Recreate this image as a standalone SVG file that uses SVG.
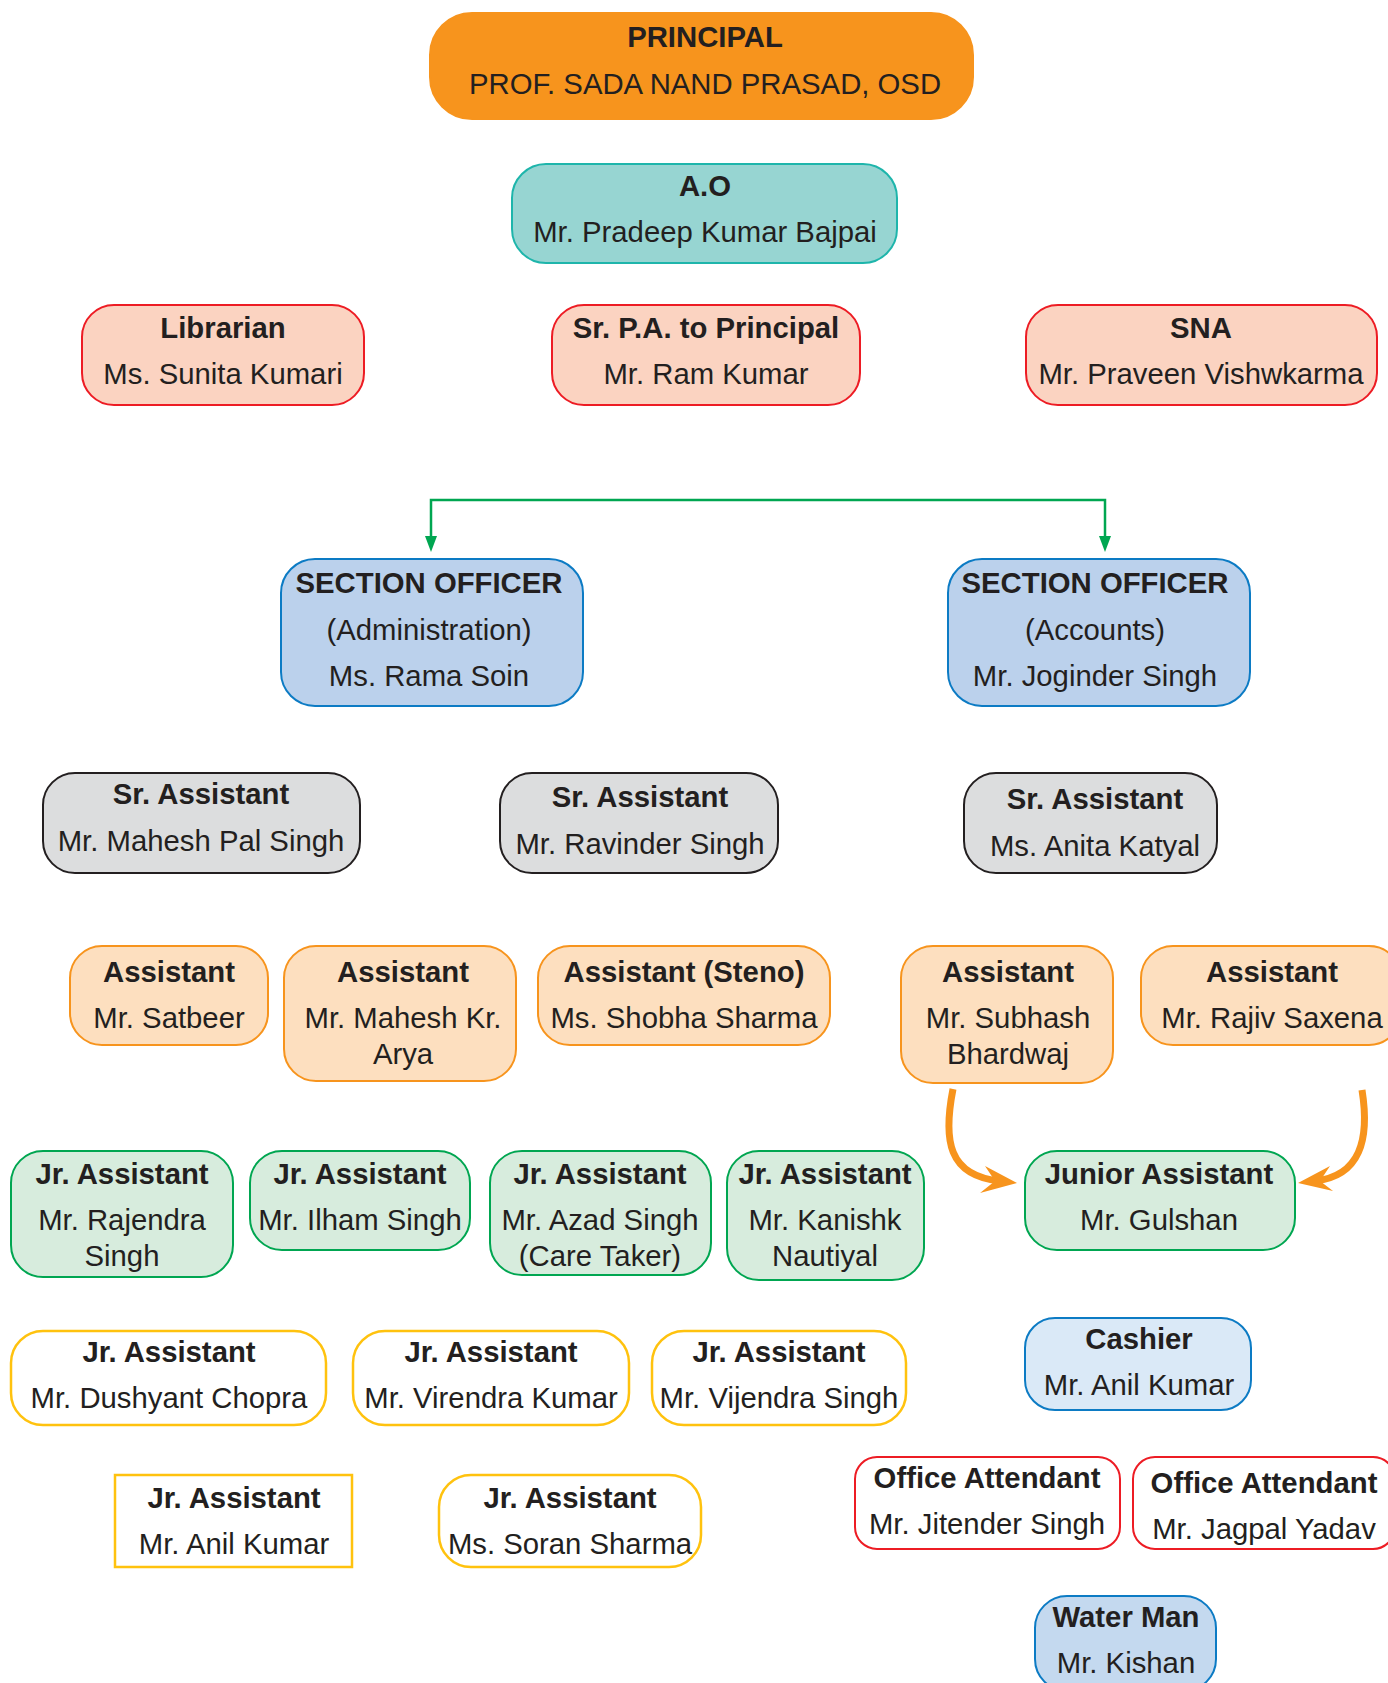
<svg xmlns="http://www.w3.org/2000/svg" width="1388" height="1683" viewBox="0 0 1388 1683">
<style>
text{font-family:"Liberation Sans",Arial,Helvetica,sans-serif;font-size:29.3px;fill:#231F20;text-anchor:middle}
.b{font-weight:bold}
rect{stroke-width:2}
.principal{fill:#F7941D;stroke:#F7941D}
.ao{fill:#97D5D2;stroke:#1EB5AB}
.salmon{fill:#FBD3C1;stroke:#ED1C24}
.so{fill:#BBD1EC;stroke:#0C7BC4}
.gray{fill:#DCDDDE;stroke:#231F20}
.peach{fill:#FDDFBF;stroke:#F7941D}
.green{fill:#D7ECDD;stroke:#00A651}
.yellow{fill:#FFFFFF;stroke:#FFC20E;stroke-width:2.5}
.cashier{fill:#DAE9F7;stroke:#0C7BC4}
.red{fill:#FFFFFF;stroke:#ED1C24}
.water{fill:#C4D9EF;stroke:#0C7BC4}
.gline{fill:none;stroke:#00A651;stroke-width:2.5}
.oline{fill:none;stroke:#F7941D;stroke-width:7}
.garrow{fill:#00A651}
.oarrow{fill:#F7941D}
</style>

<g id="connectors">
<path class="gline" d="M431,537 V500 H1105 V537"/>
<polygon class="garrow" points="425,536 437,536 431,552"/>
<polygon class="garrow" points="1099,536 1111,536 1105,552"/>
<path class="oline" d="M953,1089 C943,1140 948,1176 1000,1181"/>
<polygon class="oarrow" points="1017,1183 985,1166 995,1181 980,1193"/>
<path class="oline" d="M1362,1090 C1370,1140 1360,1176 1315,1181"/>
<polygon class="oarrow" points="1298,1183 1330,1166 1320,1181 1333,1191"/>
</g>

<g id="principal"><rect class="principal" x="430" y="13" width="543" height="106" rx="42"/>
<text class="b" x="705" y="47">PRINCIPAL</text><text x="705" y="94">PROF. SADA NAND PRASAD, OSD</text></g>

<g id="ao"><rect class="ao" x="512" y="164" width="385" height="99" rx="34"/>
<text class="b" x="705" y="196">A.O</text><text x="705" y="242">Mr. Pradeep Kumar Bajpai</text></g>

<g id="librarian"><rect class="salmon" x="82" y="305" width="282" height="100" rx="32"/>
<text class="b" x="223" y="338">Librarian</text><text x="223" y="384">Ms. Sunita Kumari</text></g>

<g id="srpa"><rect class="salmon" x="552" y="305" width="308" height="100" rx="32"/>
<text class="b" x="706" y="338">Sr. P.A. to Principal</text><text x="706" y="384">Mr. Ram Kumar</text></g>

<g id="sna"><rect class="salmon" x="1026" y="305" width="351" height="100" rx="32"/>
<text class="b" x="1201" y="338">SNA</text><text x="1201" y="384">Mr. Praveen Vishwkarma</text></g>

<g id="so-admin"><rect class="so" x="281" y="559" width="302" height="147" rx="34"/>
<text class="b" x="429" y="593">SECTION OFFICER</text><text x="429" y="640">(Administration)</text><text x="429" y="686">Ms. Rama Soin</text></g>

<g id="so-accounts"><rect class="so" x="948" y="559" width="302" height="147" rx="34"/>
<text class="b" x="1095" y="593">SECTION OFFICER</text><text x="1095" y="640">(Accounts)</text><text x="1095" y="686">Mr. Joginder Singh</text></g>

<g id="sr-asst-1"><rect class="gray" x="43" y="773" width="317" height="100" rx="32"/>
<text class="b" x="201" y="804">Sr. Assistant</text><text x="201" y="851">Mr. Mahesh Pal Singh</text></g>

<g id="sr-asst-2"><rect class="gray" x="500" y="773" width="278" height="100" rx="32"/>
<text class="b" x="640" y="807">Sr. Assistant</text><text x="640" y="854">Mr. Ravinder Singh</text></g>

<g id="sr-asst-3"><rect class="gray" x="964" y="773" width="253" height="100" rx="32"/>
<text class="b" x="1095" y="809">Sr. Assistant</text><text x="1095" y="856">Ms. Anita Katyal</text></g>

<g id="asst-satbeer"><rect class="peach" x="70" y="946" width="198" height="99" rx="32"/>
<text class="b" x="169" y="982">Assistant</text><text x="169" y="1028">Mr. Satbeer</text></g>

<g id="asst-mahesh"><rect class="peach" x="284" y="946" width="232" height="135" rx="32"/>
<text class="b" x="403" y="982">Assistant</text><text x="403" y="1028">Mr. Mahesh Kr.</text><text x="403" y="1064">Arya</text></g>

<g id="asst-steno"><rect class="peach" x="538" y="946" width="292" height="99" rx="32"/>
<text class="b" x="684" y="982">Assistant (Steno)</text><text x="684" y="1028">Ms. Shobha Sharma</text></g>

<g id="asst-subhash"><rect class="peach" x="901" y="946" width="212" height="137" rx="32"/>
<text class="b" x="1008" y="982">Assistant</text><text x="1008" y="1028">Mr. Subhash</text><text x="1008" y="1064">Bhardwaj</text></g>

<g id="asst-rajiv"><rect class="peach" x="1141" y="946" width="260" height="99" rx="32"/>
<text class="b" x="1272" y="982">Assistant</text><text x="1272" y="1028">Mr. Rajiv Saxena</text></g>

<g id="jr-rajendra"><rect class="green" x="11" y="1151" width="222" height="126" rx="32"/>
<text class="b" x="122" y="1184">Jr. Assistant</text><text x="122" y="1230">Mr. Rajendra</text><text x="122" y="1266">Singh</text></g>

<g id="jr-ilham"><rect class="green" x="250" y="1151" width="220" height="99" rx="32"/>
<text class="b" x="360" y="1184">Jr. Assistant</text><text x="360" y="1230">Mr. Ilham Singh</text></g>

<g id="jr-azad"><rect class="green" x="490" y="1151" width="221" height="124" rx="32"/>
<text class="b" x="600" y="1184">Jr. Assistant</text><text x="600" y="1230">Mr. Azad Singh</text><text x="600" y="1266">(Care Taker)</text></g>

<g id="jr-kanishk"><rect class="green" x="727" y="1151" width="197" height="129" rx="32"/>
<text class="b" x="825" y="1184">Jr. Assistant</text><text x="825" y="1230">Mr. Kanishk</text><text x="825" y="1266">Nautiyal</text></g>

<g id="jr-gulshan"><rect class="green" x="1025" y="1151" width="270" height="99" rx="32"/>
<text class="b" x="1159" y="1184">Junior Assistant</text><text x="1159" y="1230">Mr. Gulshan</text></g>

<g id="jr-dushyant"><rect class="yellow" x="11" y="1331" width="315" height="94" rx="32"/>
<text class="b" x="169" y="1362">Jr. Assistant</text><text x="169" y="1408">Mr. Dushyant Chopra</text></g>

<g id="jr-virendra"><rect class="yellow" x="353" y="1331" width="276" height="94" rx="32"/>
<text class="b" x="491" y="1362">Jr. Assistant</text><text x="491" y="1408">Mr. Virendra Kumar</text></g>

<g id="jr-vijendra"><rect class="yellow" x="652" y="1331" width="254" height="94" rx="32"/>
<text class="b" x="779" y="1362">Jr. Assistant</text><text x="779" y="1408">Mr. Vijendra Singh</text></g>

<g id="cashier"><rect class="cashier" x="1025" y="1318" width="226" height="92" rx="30"/>
<text class="b" x="1139" y="1349">Cashier</text><text x="1139" y="1395">Mr. Anil Kumar</text></g>

<g id="jr-anil"><rect class="yellow" x="115" y="1475" width="237" height="92"/>
<text class="b" x="234" y="1508">Jr. Assistant</text><text x="234" y="1554">Mr. Anil Kumar</text></g>

<g id="jr-soran"><rect class="yellow" x="439" y="1475" width="262" height="92" rx="32"/>
<text class="b" x="570" y="1508">Jr. Assistant</text><text x="570" y="1554">Ms. Soran Sharma</text></g>

<g id="oa-jitender"><rect class="red" x="855" y="1457" width="265" height="92" rx="22"/>
<text class="b" x="987" y="1488">Office Attendant</text><text x="987" y="1534">Mr. Jitender Singh</text></g>

<g id="oa-jagpal"><rect class="red" x="1133" y="1457" width="262" height="92" rx="22"/>
<text class="b" x="1264" y="1493">Office Attendant</text><text x="1264" y="1539">Mr. Jagpal Yadav</text></g>

<g id="waterman"><rect class="water" x="1035" y="1596" width="181" height="95" rx="32"/>
<text class="b" x="1126" y="1627">Water Man</text><text x="1126" y="1673">Mr. Kishan</text></g>
</svg>
